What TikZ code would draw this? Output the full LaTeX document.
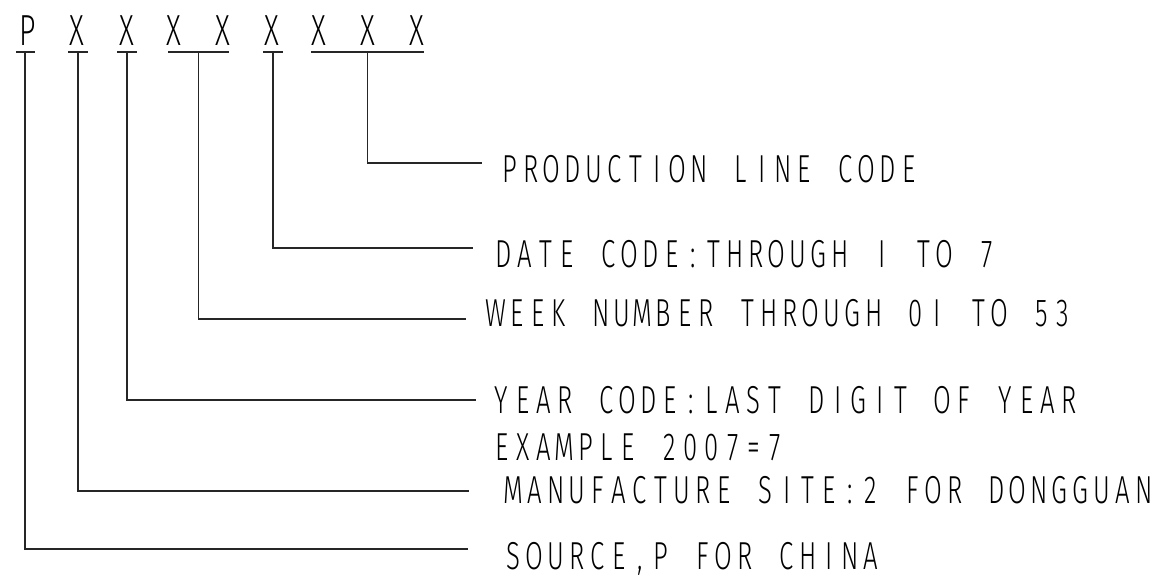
\documentclass[tikz,border=0pt]{standalone}
\usepackage{fontspec}
\IfFontExistsTF{Fira Sans Light}
  {\newfontfamily\cadfont{Fira Sans Light}[FakeStretch=0.66]}
  {\newfontfamily\cadfont{Liberation Sans}[FakeStretch=0.58]}
\def\mono#1{\monoloop#1\relax}
\def\monoloop#1{\ifx#1\relax\else\makebox[21pt][c]{#1}\expandafter\monoloop\fi}
\tikzset{
  topch/.style={inner sep=0pt, anchor=base, font=\cadfont\fontsize{43.5}{44}\selectfont},
  lbl/.style={inner sep=0pt, anchor=base west, font=\cadfont\fontsize{39}{40}\selectfont},
  wire/.style={line width=1.6pt, black!85},
}
\begin{document}
\begin{tikzpicture}[x=1pt,y=-1pt]
\useasboundingbox (0,0) rectangle (1166,576);
% code characters
\node[topch] (c1) at (27.5,45) {P};
\node[topch] (c2) at (77,45) {X};
\node[topch] (c3) at (127,45) {X};
\node[topch] (c4) at (174,45) {X};
\node[topch] (c5) at (223,45) {X};
\node[topch] (c6) at (272,45) {X};
\node[topch] (c7) at (319,45) {X};
\node[topch] (c8) at (368,45) {X};
\node[topch] (c9) at (417,45) {X};
% underlines
\draw[wire] (16,52) -- (35,52);
\draw[wire] (68,52) -- (88,52);
\draw[wire] (117,52) -- (137,52);
\draw[wire] (168,52) -- (229,52);
\draw[wire] (263,52) -- (283,52);
\draw[wire] (311,52) -- (424,52);
\coordinate (u1) at (25,52);
\coordinate (u2) at (78,52);
\coordinate (u3) at (127,52);
\coordinate (u4) at (198.5,52);
\coordinate (u5) at (273,52);
\coordinate (u6) at (367.5,52);
% labels
\node[lbl] (l6) at (499,182) {\mono{PRODUCTION~LINE~CODE}};
\node[lbl] (l5) at (493,267) {\mono{DATE~CODE:THROUGH~I~TO~7}};
\node[lbl] (l4) at (485,326) {\mono{WEEK~NUMBER~THROUGH~0I~TO~53}};
\node[lbl] (l3) at (491,413) {\mono{YEAR~CODE:LAST~DIGIT~OF~YEAR}};
\node[lbl] (l3b) at (491,460) {\mono{EXAMPLE~2007=7}};
\node[lbl] (l2) at (503,503) {\mono{MANUFACTURE~SITE:2~FOR~DONGGUAN}};
\node[lbl] (l1) at (503,569) {\mono{SOURCE,P~FOR~CHINA}};
% line ends
\coordinate (e6) at (482,163);
\coordinate (e5) at (473,248);
\coordinate (e4) at (466,319);
\coordinate (e3) at (476,400);
\coordinate (e2) at (469,491);
\coordinate (e1) at (468,549);
% connectors
\draw[wire] (u6) |- (e6);
\draw[wire] (u5) |- (e5);
\draw[wire] (u4) |- (e4);
\draw[wire] (u3) |- (e3);
\draw[wire] (u2) |- (e2);
\draw[wire] (u1) |- (e1);
\end{tikzpicture}
\end{document}
